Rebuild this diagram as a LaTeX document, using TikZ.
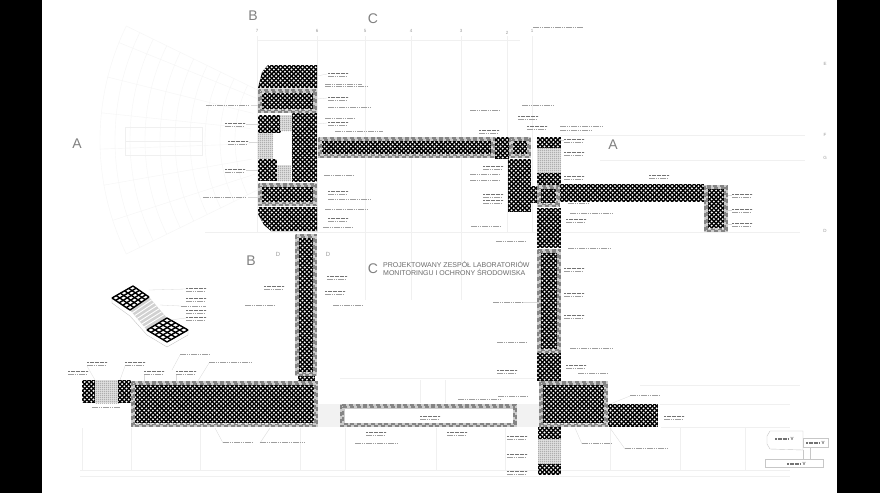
\documentclass[tikz,border=0pt]{standalone}
\usepackage{fontspec}
\setmainfont{Liberation Sans}
\usetikzlibrary{patterns,calc}
\pgfdeclarepatternformonly{holes}{\pgfqpoint{-2pt}{-2pt}}{\pgfqpoint{6.4pt}{6.4pt}}{\pgfqpoint{4.4pt}{4.4pt}}{
  \pgfpathcircle{\pgfqpoint{1.1pt}{1.1pt}}{1.05pt}
  \pgfpathcircle{\pgfqpoint{3.3pt}{3.3pt}}{1.05pt}
  \pgfusepath{fill}}
\pgfdeclarepatternformonly{finegrid}{\pgfqpoint{0pt}{0pt}}{\pgfqpoint{2pt}{2pt}}{\pgfqpoint{2pt}{2pt}}{
  \pgfsetlinewidth{0.5pt}
  \pgfpathmoveto{\pgfqpoint{1pt}{0pt}}\pgfpathlineto{\pgfqpoint{1pt}{2pt}}
  \pgfpathmoveto{\pgfqpoint{0pt}{1pt}}\pgfpathlineto{\pgfqpoint{2pt}{1pt}}
  \pgfusepath{stroke}}
\tikzset{
  faint/.style={draw=black!6,line width=0.4pt},
  fanline/.style={draw=black!4,line width=0.4pt},
  leader/.style={draw=black!15,line width=0.3pt},
  bigletter/.style={text=black!50,font=\fontsize{14}{14}\selectfont,inner sep=0pt},
  axisnum/.style={text=black!40,font=\fontsize{4.5}{5}\selectfont,inner sep=0pt},
  heading/.style={text=black!58,font=\fontsize{7}{7.8}\selectfont,align=left,inner sep=0pt,anchor=north west},
  greekstrong/.style={draw=black!55,line width=0.7pt,dash pattern=on 2pt off 0.5pt},
  greeklight/.style={draw=black!38,line width=0.55pt,dash pattern=on 1.5pt off 0.7pt},
  bandbase/.style={fill=black!20},
  banddash/.style={draw=black!48,line width=1.5pt,dash pattern=on 4pt off 2.8pt},
  outline/.style={draw=black!22,line width=0.4pt}
}
% black field with white holes
\newcommand{\dotsarea}[1]{\fill[black] #1; \fill[pattern=holes,pattern color=white] #1;}
% light gray grid
\newcommand{\gridarea}[4]{\fill[black!12] (#1,#2) rectangle (#3,#4);
  \fill[pattern=finegrid,pattern color=black!42] (#1,#2) rectangle (#3,#4);}
% gray band with dashes, its inner part given by the caller
\newcommand{\bandframe}[4]{\fill[bandbase] (#1,#2) rectangle (#3,#4);
  \draw[banddash] ($(#1,#2)+(0.9,0.9)$) rectangle ($(#3,#4)+(-0.9,-0.9)$);
  \draw[banddash,dash phase=3.4pt] ($(#1,#2)+(3.2,3.2)$) rectangle ($(#3,#4)+(-3.2,-3.2)$);}
\newcommand{\banddots}[4]{\bandframe{#1}{#2}{#3}{#4}\dotsarea{($(#1,#2)+(4,4)$) rectangle ($(#3,#4)+(-4,-4)$)}}
\newcommand{\bandwhite}[4]{\bandframe{#1}{#2}{#3}{#4}\fill[white] ($(#1,#2)+(4.5,4.5)$) rectangle ($(#3,#4)+(-4.5,-4.5)$);}
% labels too small to read: two-row and one-row marks
\newcommand{\lblpair}[2]{\draw[greekstrong] (#1,#2) -- ++(20,0); \draw[greeklight] (#1,#2+3) -- ++(19,0);}
\newcommand{\lblone}[3]{\draw[greeklight] (#2,#1) -- (#3,#1);}
\begin{document}
\begin{tikzpicture}[x=1pt,y=-1pt]
\useasboundingbox (0,0) rectangle (880,493);
\fill[white] (0,0) rectangle (880,493);
\fill[black] (0,0) rectangle (42,493);
\fill[black] (837,0) rectangle (880,493);

% auditorium fan, very faint
\foreach \r in {260,245,230,215,200,185,170,155,140,125}{
  \draw[fanline] ($(360,140)+(154:\r)$) arc[start angle=154,end angle=206,radius=\r];}
\foreach \a in {154,162,170,178,186,194,202,206}{
  \draw[fanline] ($(360,140)+(\a:110)$) -- ($(360,140)+(\a:260)$);}
\draw[faint] (125,127) rectangle (202,155);
\draw[faint] (125,141) -- (202,141);

% faint site and axis lines
\foreach \x in {257,317,365,411,461,507,532}{\draw[faint] (\x,36) -- (\x,232);}
\foreach \x in {365,411,461}{\draw[faint] (\x,232) -- (\x,300);}
\draw[faint] (258,40) -- (520,40);
\draw[faint] (205,232) -- (800,232);
\draw[faint] (560,135) -- (805,135);
\draw[faint] (600,160) -- (805,160);
\draw[faint] (80,476) -- (790,476);
\draw[faint] (80,470) -- (790,470);
\draw[faint] (340,378) -- (535,378);
\foreach \x in {82,131,200,300,345,436,505,610,680,745}{\draw[faint] (\x,428) -- (\x,470);}
\draw[faint] (420,380) -- (420,403);
\draw[faint] (445,380) -- (445,403);
\draw[faint] (640,385) -- (800,385);
\draw[faint] (660,404) -- (790,404);
\draw[faint] (661,427) -- (790,427);

% very light strips beside the white corridor
\fill[black!5] (318,404) rectangle (340,427);
\fill[black!5] (517,404) rectangle (539,427);

% west block
\dotsarea{(258,88) -- (262,72) -- (268,65) -- (317,65) -- (317,88) -- cycle}
\banddots{258}{89}{317}{113}
\dotsarea{(258,115) rectangle (281,133)}
\gridarea{280}{115}{293}{131}
\dotsarea{(292,113) rectangle (317,182)}
\gridarea{258}{133}{273}{159}
\dotsarea{(258,159) rectangle (277,181)}
\gridarea{277}{165}{291}{181}
\banddots{258}{183}{317}{206}
\dotsarea{(258,207) -- (317,207) -- (317,231) -- (271,231) -- (264,225) -- (258,214) -- cycle}

% north corridor
\banddots{318}{137}{495}{158}
\dotsarea{(495,137) rectangle (509,159)}
\banddots{509}{137}{531}{158}
\dotsarea{(508,159) rectangle (531,212)}
\dotsarea{(531,186) rectangle (538,203)}

% corridor to the south-west
\banddots{295}{234}{317}{376}
\dotsarea{(298,376) rectangle (315,381)}

% south-west wing
\dotsarea{(82,380) rectangle (95,403)}
\gridarea{95}{380}{120}{403}
\dotsarea{(118,380) rectangle (131,403)}
\banddots{131}{381}{318}{427}
\bandwhite{340}{404}{517}{427}

% east column
\dotsarea{(537,137) rectangle (561,148)}
\gridarea{537}{148}{561}{173}
\dotsarea{(537,173) rectangle (561,185)}
\banddots{537}{185}{560}{207}
\dotsarea{(560,184) rectangle (704,202)}
\banddots{704}{185}{728}{232}
\dotsarea{(537,208) rectangle (561,248)}
\banddots{537}{249}{561}{353}
\dotsarea{(537,353) rectangle (561,381)}
\banddots{539}{381}{608}{427}
\dotsarea{(608,404) rectangle (658,427)}
\dotsarea{(538,427) rectangle (561,439)}
\gridarea{538}{439}{561}{464}
\dotsarea{(538,464) rectangle (561,475)}

% isometric stair
\draw[outline] (112,298) -- (112,303) -- (130,316) -- (147,335) -- (167,347) -- (188,335) -- (188,330);
\fill[black!18] (130,310) -- (149,297) -- (167,318) -- (147,330) -- cycle;
\foreach \t in {0.14,0.28,0.42,0.56,0.70,0.84}{
  \draw[white,line width=0.9pt] ($(130,310)!\t!(147,330)$) -- ($(149,297)!\t!(167,318)$);}
\foreach \t in {0,0.2,0.4,0.6,0.8,1}{
  \draw[black,line width=1.4pt] ($(112,298)!\t!(130,310)$) -- ($(133,286)!\t!(149,297)$);
  \draw[black,line width=1.4pt] ($(112,298)!\t!(133,286)$) -- ($(130,310)!\t!(149,297)$);
  \draw[black,line width=1.4pt] ($(147,330)!\t!(167,342)$) -- ($(167,318)!\t!(188,330)$);
  \draw[black,line width=1.4pt] ($(147,330)!\t!(167,318)$) -- ($(167,342)!\t!(188,330)$);}

% leaders
\draw[leader] (317,76) -- (327,74);
\draw[leader] (317,99) -- (327,98);
\draw[leader] (317,124) -- (327,123);
\draw[leader] (251,105) -- (258,105);
\draw[leader] (246,124) -- (258,124);
\draw[leader] (249,142) -- (258,142);
\draw[leader] (246,170) -- (258,170);
\draw[leader] (248,197) -- (258,197);
\draw[leader] (561,140) -- (564,140);
\draw[leader] (728,195) -- (732,195);
\draw[leader] (728,210) -- (732,210);
\draw[leader] (728,224) -- (732,224);
\draw[leader] (149,290) -- (186,289);
\draw[leader] (160,305) -- (181,306);
\draw[leader] (170,320) -- (186,318);
\draw[leader] (523,302) -- (537,302);
\draw[leader] (144,375) -- (144,381);
\draw[leader] (176,375) -- (176,381);
\draw[leader] (180,355) -- (172,370);
\draw[leader] (209,363) -- (198,381);
\draw[leader] (87,366) -- (95,380);
\draw[leader] (125,366) -- (120,380);
\draw[leader] (223,443) -- (215,428);
\draw[leader] (260,443) -- (270,428);
\draw[leader] (630,396) -- (610,404);
\draw[leader] (582,444) -- (575,428);
\draw[leader] (625,449) -- (610,428);

% small labels
\lblpair{328}{73}\lblpair{328}{97}\lblpair{328}{122}\lblpair{328}{191}\lblpair{328}{218}
\lblone{84}{325}{362}\lblone{86}{325}{368}\lblone{107}{328}{371}\lblone{118}{325}{355}
\lblone{131}{335}{383}\lblone{175}{324}{354}\lblone{199}{328}{371}\lblone{209}{325}{369}\lblone{227}{323}{353}
\lblone{110}{470}{500}\lblpair{479}{130}\lblpair{483}{166}\lblone{174}{470}{500}\lblone{180}{470}{500}
\lblpair{483}{194}\lblpair{483}{200}\lblone{226}{471}{501}\lblone{241}{496}{526}
\lblone{105}{522}{553}\lblpair{518}{116}\lblpair{527}{126}\lblone{126}{560}{603}\lblone{130}{560}{591}
\lblpair{564}{139}\lblpair{564}{152}\lblpair{564}{176}\lblpair{649}{175}
\lblpair{732}{194}\lblpair{732}{209}\lblpair{732}{223}\lblpair{566}{219}\lblone{203}{568}{588}
\lblone{213}{570}{614}\lblone{248}{568}{612}\lblpair{564}{268}\lblpair{564}{293}\lblpair{564}{315}
\lblpair{566}{365}\lblone{373}{578}{608}\lblone{348}{570}{614}\lblone{342}{497}{527}
\lblpair{497}{370}\lblone{396}{498}{528}\lblone{399}{458}{502}\lblpair{420}{416}
\lblpair{366}{432}\lblpair{447}{432}\lblone{443}{355}{399}
\lblpair{507}{436}\lblpair{507}{454}\lblpair{507}{471}\lblone{443}{582}{612}\lblone{448}{625}{668}
\lblone{395}{630}{660}\lblpair{664}{416}\lblone{302}{493}{523}
\lblpair{186}{288}\lblpair{186}{298}\lblone{306}{181}{206}\lblpair{186}{310}\lblpair{186}{317}
\lblpair{264}{286}\lblone{305}{245}{275}\lblpair{327}{276}\lblpair{325}{291}\lblone{305}{333}{363}
\lblpair{87}{362}\lblpair{125}{362}\lblpair{68}{371}\lblpair{144}{371}\lblpair{176}{371}
\lblone{354}{180}{210}\lblone{362}{209}{253}\lblone{407}{92}{120}\lblone{442}{223}{253}\lblone{442}{260}{305}
\lblone{105}{206}{250}\lblpair{225}{123}\lblpair{228}{141}\lblpair{225}{169}\lblone{197}{203}{247}
\lblone{27}{533}{583}

% key plan, bottom right
\draw[outline] (767,436) -- (770,431) -- (803,431) -- (803,450) -- (770,449) -- (767,444) -- cycle;
\draw[outline] (803,438) rectangle (828,447);
\draw[outline] (765,459) rectangle (823,467);
\draw[outline] (803,450) -- (803,459);
\draw[outline] (810,447) -- (810,459);
\node[text=black!65,font=\fontsize{4.5}{5}\selectfont\bfseries,inner sep=0pt] (keyA) at (792,439) {V};
\node[text=black!65,font=\fontsize{4.5}{5}\selectfont\bfseries,inner sep=0pt] (keyB) at (823,443) {V};
\node[text=black!65,font=\fontsize{4.5}{5}\selectfont\bfseries,inner sep=0pt] (keyC) at (804,464) {V};
\draw[greekstrong,line width=1.2pt] (775,439) -- (789,439);
\draw[greekstrong,line width=1.2pt] (806,443) -- (820,443);
\draw[greekstrong,line width=1.2pt] (787,464) -- (801,464);

% section letters and axes
\node[bigletter] (aW) at (77,144) {A};
\node[bigletter] (aE) at (613,145) {A};
\node[bigletter] (bN) at (253,16) {B};
\node[bigletter] (bS) at (251,261) {B};
\node[bigletter] (cN) at (373,19) {C};
\node[bigletter] (cS) at (373,269) {C};
\node[axisnum,font=\fontsize{6}{6}\selectfont] (dA) at (278,254) {D};
\node[axisnum,font=\fontsize{6}{6}\selectfont] (dB) at (328,254) {D};
\node[axisnum] (n7) at (257,31) {7};
\node[axisnum] (n6) at (317,31) {6};
\node[axisnum] (n5) at (365,31) {5};
\node[axisnum] (n4) at (411,31) {4};
\node[axisnum] (n3) at (461,31) {3};
\node[axisnum] (n2) at (507,33) {2};
\node[axisnum] (n1) at (532,31) {1};
\node[axisnum] (eE) at (825,64) {E};
\node[axisnum] (eF) at (825,135) {F};
\node[axisnum] (eG) at (825,158) {G};
\node[axisnum] (eD) at (825,231) {D};
\node[heading] (title) at (383,261) {PROJEKTOWANY ZESPÓŁ LABORATORIÓW\\MONITORINGU I OCHRONY ŚRODOWISKA};
\end{tikzpicture}
\end{document}
